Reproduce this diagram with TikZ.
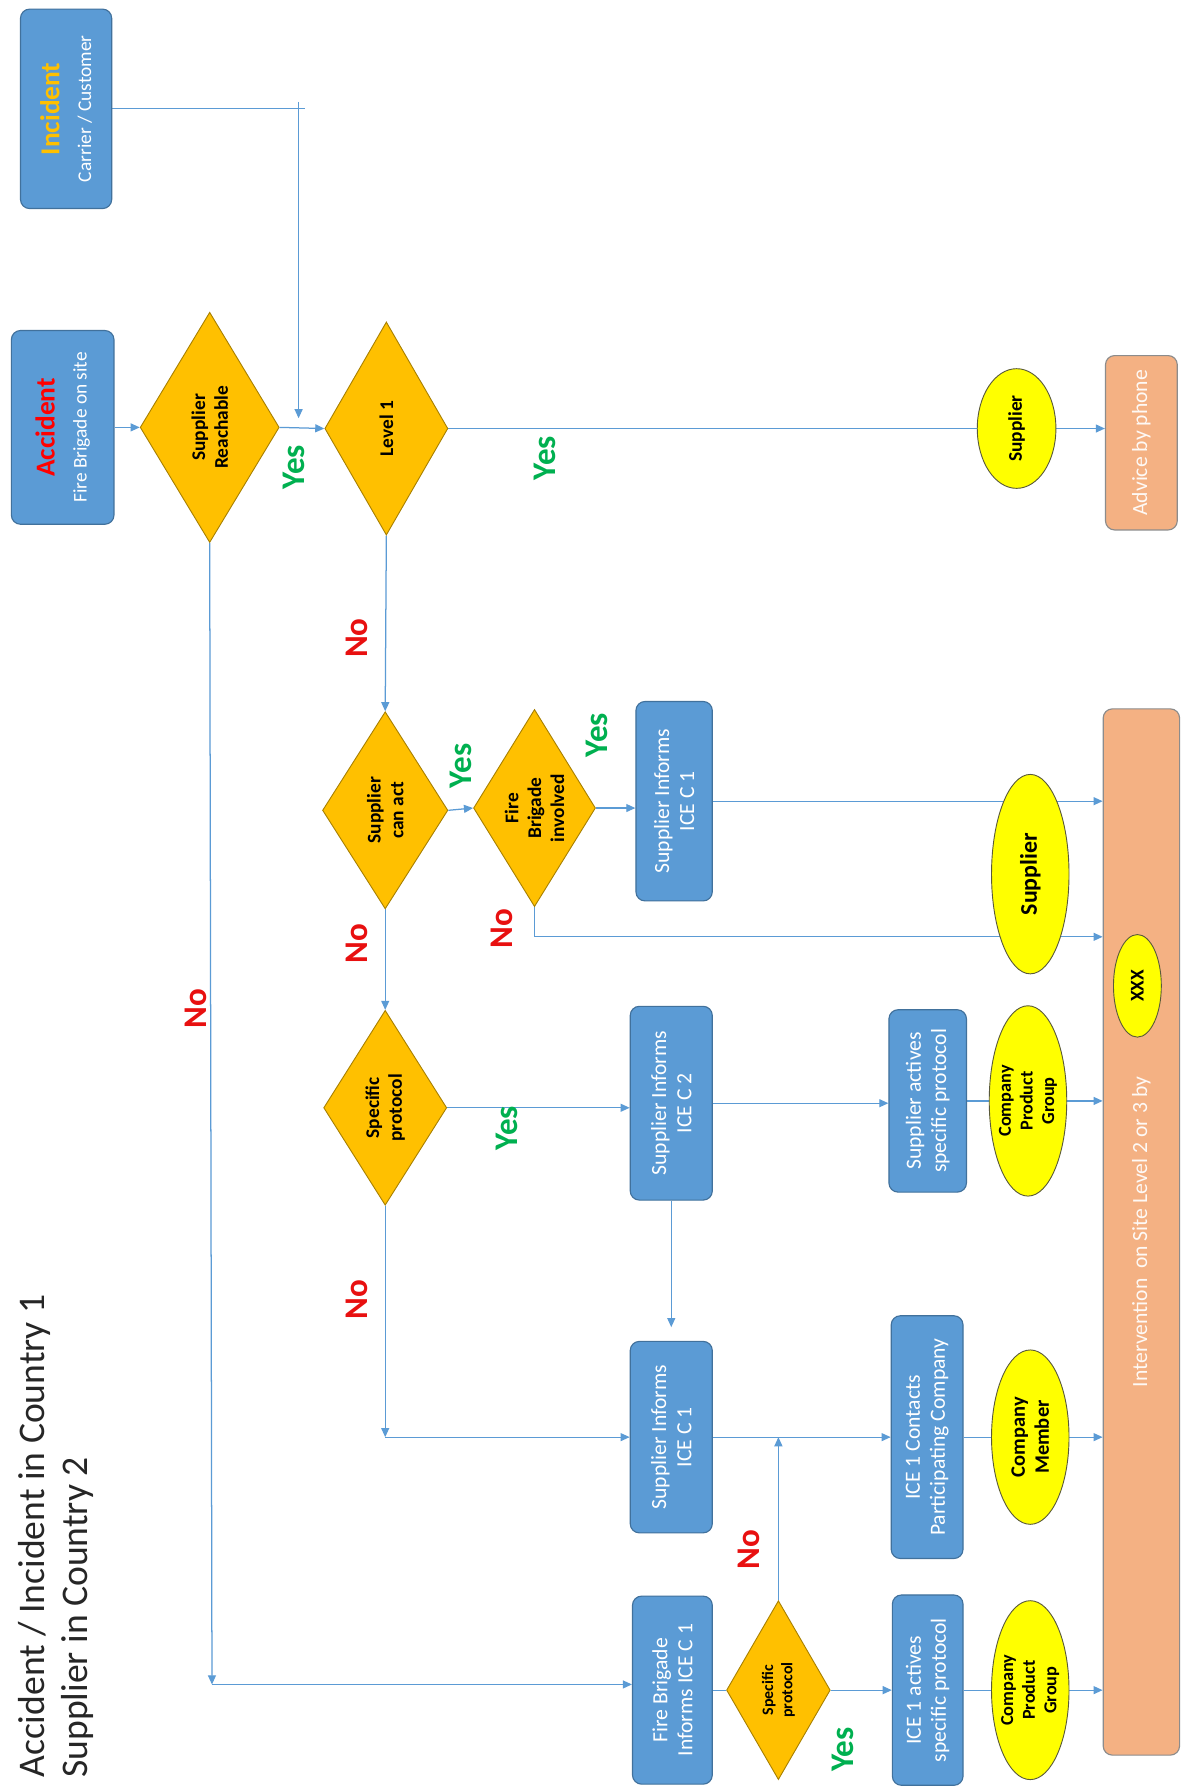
\documentclass[tikz,border=0pt]{standalone}
\usepackage{fontspec}
\setmainfont{Carlito}
\usetikzlibrary{shapes.geometric,arrows.meta}
\definecolor{bxblue}{HTML}{5B9BD5}
\definecolor{bxborder}{HTML}{41719C}
\definecolor{dmfill}{HTML}{FFC000}
\definecolor{dmborder}{HTML}{A88000}
\definecolor{elfill}{HTML}{FFFF00}
\definecolor{elborder}{HTML}{5A5A3A}
\definecolor{salmon}{HTML}{F4B183}
\definecolor{salborder}{HTML}{8C8C8C}
\definecolor{lineblue}{HTML}{5B9BD5}
\definecolor{yesgreen}{HTML}{00B050}
\definecolor{nored}{HTML}{E81010}
\definecolor{incy}{HTML}{FFC000}
\definecolor{titlecol}{HTML}{262626}
\pgfdeclarelayer{bg}
\pgfsetlayers{bg,main}
\begin{document}
\begin{tikzpicture}[x=1pt,y=-1pt,
  bluebox/.style={draw=bxborder, fill=bxblue, rounded corners=8pt, line width=1pt, inner sep=0pt},
  salbox/.style={draw=salborder, fill=salmon, rounded corners=8pt, line width=1pt, inner sep=0pt},
  dia/.style={diamond, draw=dmborder, fill=dmfill, line width=0.8pt, inner sep=0pt},
  ell/.style={ellipse, draw=elborder, fill=elfill, line width=0.8pt, inner sep=0pt},
  boxtxt/.style={rotate=90, align=center, text=white, font=\fontsize{19}{22}\selectfont},
  diatxt/.style={rotate=90, align=center, text=black, font=\fontsize{17}{20}\selectfont\bfseries},
  elltxt/.style={rotate=90, align=center, text=black, font=\fontsize{17}{19}\selectfont\bfseries},
  yeslbl/.style={rotate=90, text=yesgreen, font=\fontsize{29}{33}\selectfont\bfseries},
  nolbl/.style={rotate=90, text=nored, font=\fontsize{29}{33}\selectfont\bfseries},
  conn/.style={draw=lineblue, line width=1.1pt, -{Triangle[length=8pt,width=7pt]}},
  plain/.style={draw=lineblue, line width=1.1pt}]
\useasboundingbox (0,0) rectangle (1038,1568);

% title
\node[rotate=90, anchor=west, text=titlecol, font=\fontsize{33}{40}\selectfont, inner sep=0pt] (t1) at (30,1560) {Accident / Incident in Country 1};
\node[rotate=90, anchor=west, text=titlecol, font=\fontsize{33}{40}\selectfont, inner sep=0pt] (t2) at (68,1560) {Supplier in Country 2};

% start boxes
\node[bluebox, minimum width=80pt, minimum height=175pt,
  label={[boxtxt, font=\fontsize{17}{28}\selectfont]center:{{\fontsize{24}{28}\selectfont\bfseries\color{incy}Incident}\\Carrier / Customer}}] (inc) at (58,95.5) {};
\node[bluebox, minimum width=90pt, minimum height=170pt,
  label={[boxtxt, font=\fontsize{17}{28}\selectfont]center:{{\fontsize{24}{28}\selectfont\bfseries\color{red}Accident}\\Fire Brigade on site}}] (acc) at (55,375) {};

% diamonds
\node[dia, minimum width=122pt, minimum height=202pt, label={[diatxt]center:Supplier\\Reachable}] (sr) at (184,375) {};
\node[dia, minimum width=108pt, minimum height=187pt, label={[diatxt]center:Level 1}] (lvl1) at (339,376) {};
\node[dia, minimum width=110pt, minimum height=173pt, label={[diatxt]center:Supplier\\can act}] (sca) at (338,711) {};
\node[dia, minimum width=107pt, minimum height=173pt, label={[diatxt]center:Fire\\Brigade\\involved}] (fbi) at (469,709) {};
\node[dia, minimum width=108pt, minimum height=171pt, label={[diatxt]center:Specific\\protocol}] (sp) at (338,972) {};
\node[dia, minimum width=91pt, minimum height=157pt, label={[diatxt, font=\fontsize{14}{17}\selectfont\bfseries]center:Specific\\protocol}] (sp2) at (683,1483) {};

% blue boxes
\node[bluebox, minimum width=67pt, minimum height=175pt, label={[boxtxt]center:Supplier Informs\\ICE C 1}] (sic1t) at (591.5,703) {};
\node[bluebox, minimum width=72pt, minimum height=170pt, label={[boxtxt]center:Supplier Informs\\ICE C 2}] (sic2) at (589,968) {};
\node[bluebox, minimum width=68pt, minimum height=160pt, label={[boxtxt]center:Supplier actives\\specific protocol}] (sasp) at (814,966) {};
\node[bluebox, minimum width=72pt, minimum height=168pt, label={[boxtxt]center:Supplier Informs\\ICE C 1}] (sic1b) at (589,1261) {};
\node[bluebox, minimum width=63pt, minimum height=213pt, label={[boxtxt]center:ICE 1 Contacts\\Participating Company}] (ice1c) at (813.5,1261) {};
\node[bluebox, minimum width=70pt, minimum height=165pt, label={[boxtxt]center:Fire Brigade\\Informs ICE C 1}] (fbic) at (590,1483) {};
\node[bluebox, minimum width=62pt, minimum height=167pt, label={[boxtxt]center:ICE 1 actives\\specific protocol}] (ice1a) at (814,1483) {};

% salmon boxes
\node[salbox, minimum width=63pt, minimum height=153pt, label={[boxtxt, text=white!92!salmon]center:Advice by phone}] (adv) at (1001.5,388.5) {};
\node[salbox, minimum width=67pt, minimum height=918pt, label={[boxtxt, text=white!92!salmon]center:Intervention\ \ on Site Level 2 or 3 by}] (interv) at (1001.5,1081) {};

% ellipses
\node[ell, minimum width=69pt, minimum height=105pt, label={[elltxt]center:Supplier}] (sup1) at (892,376) {};
\node[ell, minimum width=68pt, minimum height=175pt, label={[elltxt, font=\fontsize{21}{24}\selectfont\bfseries]center:Supplier}] (sup2) at (904,767) {};
\node[ell, minimum width=68pt, minimum height=167pt, label={[elltxt, font=\fontsize{16}{19}\selectfont\bfseries]center:Company\\Product\\Group}] (cpg1) at (902,966) {};
\node[ell, minimum width=42pt, minimum height=90pt, label={[elltxt]center:XXX}] (xxx) at (998,865) {};
\node[ell, minimum width=68pt, minimum height=153pt, label={[elltxt, font=\fontsize{18}{21}\selectfont\bfseries]center:Company\\Member}] (cm) at (904,1261) {};
\node[ell, minimum width=68pt, minimum height=157pt, label={[elltxt, font=\fontsize{16}{19}\selectfont\bfseries]center:Company\\Product\\Group}] (cpg2) at (904,1483) {};

% yes / no labels
\node[yeslbl] (y1) at (258,410) {Yes};
\node[yeslbl] (y2) at (478,402) {Yes};
\node[nolbl] (n1) at (313,560) {No};
\node[nolbl] (n2) at (172,885) {No};
\node[yeslbl] (y3) at (404,672) {Yes};
\node[yeslbl] (y4) at (524,645) {Yes};
\node[nolbl] (n3) at (440,815) {No};
\node[nolbl] (n4) at (313,828) {No};
\node[yeslbl] (y5) at (445,990) {Yes};
\node[nolbl] (n5) at (313,1140) {No};
\node[nolbl] (n6) at (657,1360) {No};
\node[yeslbl] (y6) at (740,1535) {Yes};

\coordinate (jn) at (262,367);
\coordinate (fbiNo) at (469,822);
\coordinate (spNo) at (338,1261);
\coordinate (srNo) at (186,1478);

\begin{pgfonlayer}{bg}
\fill[white] (0,0) rectangle (1038,1568);
\draw[conn] (acc.east) -- (sr.west);
\draw[plain] (inc.east) -- ([xshift=6pt]inc.east -| jn);
\draw[conn] ([yshift=6pt]inc.east -| jn) -- (jn);
\draw[conn] (sr.east) -- (lvl1.west);
\draw[plain] (lvl1.east) -- (sup1.west);
\draw[conn] (sup1.east) -- (sup1.east -| adv.west);
\draw[conn] (lvl1.south) -- (sca.north);
\draw[conn] (sca.east) -- (fbi.west);
\draw[conn] (fbi.east) -- (fbi.east -| sic1t.west);
\draw[conn] (sic1t.east) -- (sic1t.east -| interv.west);
\draw[plain] (fbi.south) -- (fbiNo);
\draw[conn] (fbiNo) -- (fbiNo -| interv.west);
\draw[conn] (sca.south) -- (sp.north);
\draw[conn] (sp.east) -- (sp.east -| sic2.west);
\draw[conn] (sic2.east) -- (sic2.east -| sasp.west);
\draw[conn] (sasp.east) -- (sasp.east -| interv.west);
\draw[conn] (sic2.south) -- ([yshift=12pt]sic1b.north);
\draw[conn] (sp.south) -- (spNo);
\draw[conn] (spNo) -- (sic1b.west);
\draw[conn] (sic1b.east) -- (ice1c.west);
\draw[conn] (ice1c.east) -- (ice1c.east -| interv.west);
\draw[conn] (sr.south) -- (srNo);
\draw[conn] (srNo) -- (srNo -| fbic.west);
\draw[plain] (fbic.east) -- (sp2.west);
\draw[conn] (sp2.north) -- (sp2.north |- sic1b.east);
\draw[conn] (sp2.east) -- (ice1a.west);
\draw[conn] (ice1a.east) -- (ice1a.east -| interv.west);
\end{pgfonlayer}
\end{tikzpicture}
\end{document}
